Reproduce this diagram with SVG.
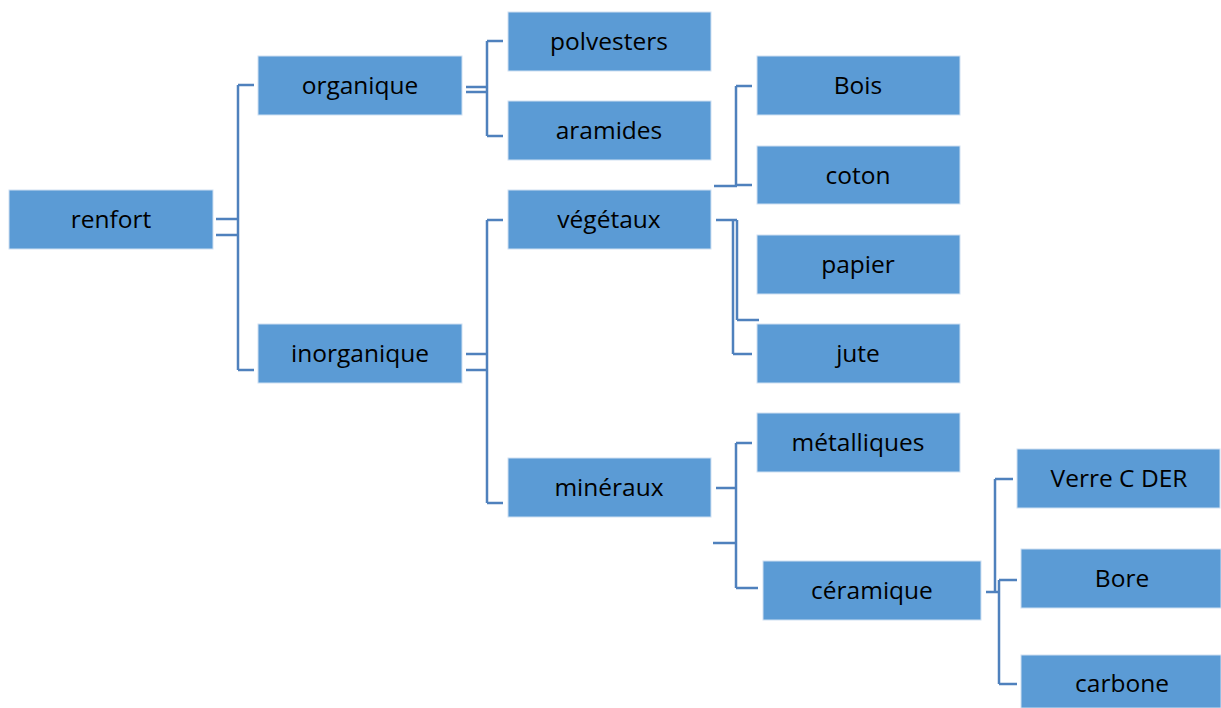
<svg xmlns="http://www.w3.org/2000/svg" width="1221" height="708" viewBox="0 0 1221 708">
<style>
.box{fill:#5b9bd5;stroke:#cfe0f2;stroke-width:1}
.t{font-family:"Open Sans","Liberation Sans",sans-serif;font-size:24.5px;fill:#000;text-anchor:middle}
.c{fill:none;stroke:#4f81bd;stroke-width:2.5}
</style>
<rect width="1221" height="708" fill="#fff"/>
<g id="connectors">
<path class="c" d="M216,219H238M216,235H238M238,85V370M238,85H254M238,370H254"/>
<path class="c" d="M466,87H487M466,92H487M487,41V136M487,41H503M487,136H503"/>
<path class="c" d="M466,354H487M466,370H487M487,220V503M487,220H503M487,503H503"/>
<path class="c" d="M714,186H737M736,86V186M736,86H752M736,185H752"/>
<path class="c" d="M716,220H737M737,220V320M737,320H759M733,220V354M733,354H752"/>
<path class="c" d="M716,488H736M713,543H736M736,443V588M736,443H752M736,588H758"/>
<path class="c" d="M986,592H999M995,479V592M995,479H1013M999,580V684M999,580H1017M999,684H1017"/>
</g>
<g id="renfort"><rect class="box" x="9" y="190" width="204" height="59"/><text class="t" x="111" y="228">renfort</text></g>
<g id="organique"><rect class="box" x="258" y="56" width="204" height="59"/><text class="t" x="360" y="94">organique</text></g>
<g id="inorganique"><rect class="box" x="258" y="324" width="204" height="59"/><text class="t" x="360" y="362">inorganique</text></g>
<g id="polvesters"><rect class="box" x="508" y="12" width="203" height="59"/><text class="t" x="609" y="50">polvesters</text></g>
<g id="aramides"><rect class="box" x="508" y="101" width="203" height="59"/><text class="t" x="609" y="139">aramides</text></g>
<g id="vegetaux"><rect class="box" x="508" y="190" width="203" height="59"/><text class="t" x="609" y="228">végétaux</text></g>
<g id="mineraux"><rect class="box" x="508" y="458" width="203" height="59"/><text class="t" x="609" y="496">minéraux</text></g>
<g id="bois"><rect class="box" x="757" y="56" width="203" height="59"/><text class="t" x="858" y="94">Bois</text></g>
<g id="coton"><rect class="box" x="757" y="146" width="203" height="58"/><text class="t" x="858" y="184">coton</text></g>
<g id="papier"><rect class="box" x="757" y="235" width="203" height="59"/><text class="t" x="858" y="273">papier</text></g>
<g id="jute"><rect class="box" x="757" y="324" width="203" height="59"/><text class="t" x="858" y="362">jute</text></g>
<g id="metalliques"><rect class="box" x="757" y="413" width="203" height="59"/><text class="t" x="858" y="451">métalliques</text></g>
<g id="ceramique"><rect class="box" x="763" y="561" width="218" height="59"/><text class="t" x="872" y="599">céramique</text></g>
<g id="verre"><rect class="box" x="1017" y="449" width="203" height="59"/><text class="t" x="1119" y="487">Verre C DER</text></g>
<g id="bore"><rect class="box" x="1021" y="549" width="200" height="59"/><text class="t" x="1122" y="587">Bore</text></g>
<g id="carbone"><rect class="box" x="1021" y="655" width="200" height="53"/><text class="t" x="1122" y="692">carbone</text></g>
</svg>
